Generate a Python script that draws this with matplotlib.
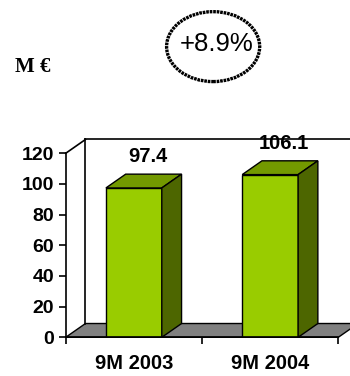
import matplotlib
matplotlib.use('Agg')
import matplotlib.pyplot as plt
from matplotlib.patches import Polygon, Ellipse

plt.rcParams['font.family'] = 'Liberation Sans'

categories = ['9M 2003', '9M 2004']
values = [97.4, 106.1]
growth_label = '+8.9%'
unit_label = 'M \u20ac'
y_ticks = [0, 20, 40, 60, 80, 100, 120]

front_col = '#99cc00'
top_col = '#739900'
side_col = '#4d6600'
floor_col = '#808080'

# depth of the fake 3d box, in data units
dx, dy = 0.145, 9.0
width = 0.41

fig = plt.figure(figsize=(3.5, 3.76), dpi=100)
ax = fig.add_axes([0.1877, 0.1029, 0.7789, 0.4894])
ax.set_xlim(0, len(categories))
ax.set_ylim(0, 120)

n = len(categories)
# floor
ax.add_patch(Polygon([(0, 0), (n, 0), (n + dx, dy), (dx, dy)], closed=True,
                     facecolor=floor_col, edgecolor='black', lw=1.0,
                     clip_on=False, zorder=1))
# back wall edges
ax.plot([dx, dx], [dy, 120 + dy], color='black', lw=1.2, clip_on=False, zorder=1)
ax.plot([dx, n + dx], [120 + dy, 120 + dy], color='black', lw=1.2, clip_on=False, zorder=1)
ax.plot([0, dx], [120, 120 + dy], color='black', lw=1.2, clip_on=False, zorder=1)

xs = [i + 0.5 for i in range(n)]
ax.bar(xs, values, width=width, color=front_col, edgecolor='black', lw=1.0, zorder=3)
for x, v in zip(xs, values):
    l, r = x - width / 2, x + width / 2
    ax.add_patch(Polygon([(l, v), (r, v), (r + dx, v + dy), (l + dx, v + dy)], closed=True,
                         facecolor=top_col, edgecolor='black', lw=1.0, zorder=3, clip_on=False))
    ax.add_patch(Polygon([(r, 0), (r + dx, dy), (r + dx, v + dy), (r, v)], closed=True,
                         facecolor=side_col, edgecolor='black', lw=1.0, zorder=3, clip_on=False))
    ax.text(x + 0.1, v + dy + 11.5, f'{v:.1f}', ha='center', va='center',
            fontsize=14.5, fontweight='bold', zorder=4, clip_on=False)

for s in ['top', 'right']:
    ax.spines[s].set_visible(False)
ax.spines['left'].set_linewidth(1.2)
ax.spines['bottom'].set_linewidth(1.2)
ax.spines['bottom'].set_zorder(5)

ax.set_yticks(y_ticks)
ax.set_yticklabels([str(t) for t in y_ticks], fontsize=14, fontweight='bold')
ax.set_xticks(range(n + 1))
ax.set_xticklabels([])
ax.set_xticks(xs, minor=True)
ax.set_xticklabels(categories, minor=True, fontsize=14.5, fontweight='bold')
ax.tick_params(axis='y', length=5, width=1.2, pad=3.4)
ax.tick_params(axis='x', which='major', length=5, width=1.2)
ax.tick_params(axis='x', which='minor', length=0, pad=12)

fig.text(0.043, 0.822, unit_label, family='Liberation Serif', fontweight='bold',
         fontsize=15, va='center', ha='left')

fig.patches.append(Ellipse((0.609, 0.876), 0.266, 0.186, transform=fig.transFigure,
                           fill=False, edgecolor='black', lw=2.4, linestyle=(0, (0.8, 0.25))))
fig.text(0.619, 0.884, growth_label, fontsize=18.5, ha='center', va='center')

fig.savefig('out.png', dpi=100)
